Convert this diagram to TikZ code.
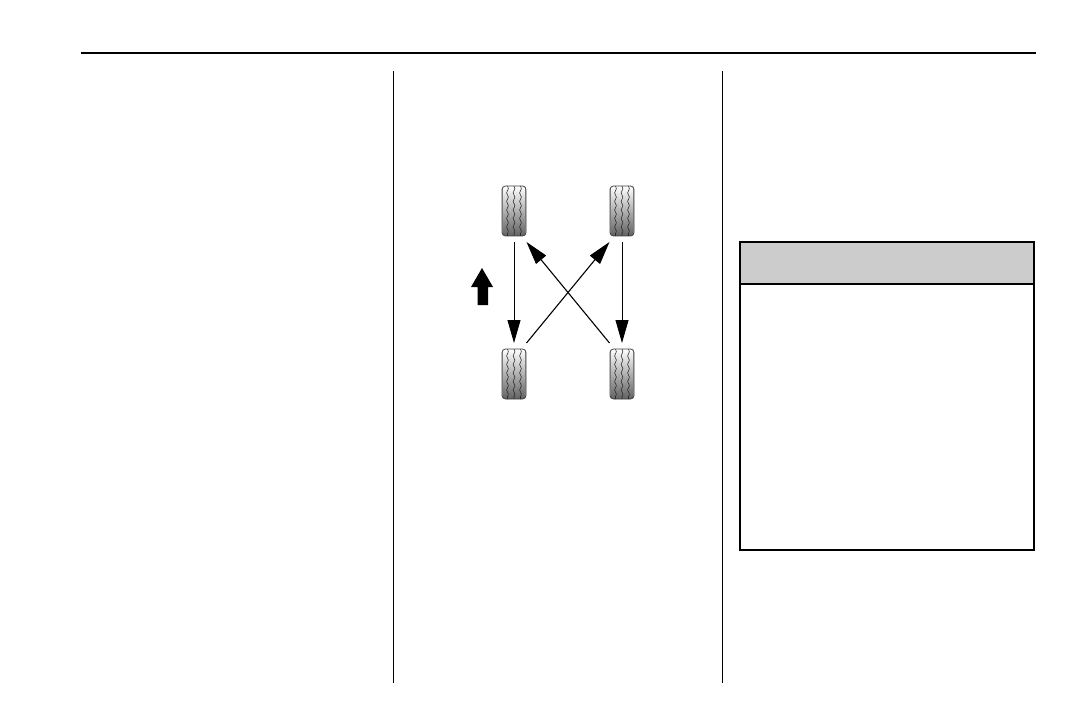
\documentclass[tikz,border=0pt]{standalone}
\usepackage{amsmath}
\usetikzlibrary{arrows.meta}
\usetikzlibrary{decorations.pathmorphing}
\tikzset{
    tire/.style={draw=black!75, line width=0.8pt, rounded corners=3.5pt, minimum width=24pt, minimum height=50pt, inner sep=0pt, outer xsep=0.5pt, outer ysep=6pt, top color=white, middle color=black!6, bottom color=black!62, shading angle=0,
        path picture={
            \foreach \g in {-6.5,0,6.5} {
                \draw[-, sharp corners, line width=0.55pt, black!85, decorate, decoration={snake, amplitude=0.9pt, segment length=8.5pt}] ([xshift=\g pt]path picture bounding box.north) -- ([xshift=\g pt]path picture bounding box.south);
            }
            \draw[-, sharp corners, line width=1.6pt, black!40] (path picture bounding box.north west) -- (path picture bounding box.south west);
            \draw[-, sharp corners, line width=1.6pt, black!40] (path picture bounding box.north east) -- (path picture bounding box.south east);
        }},
    rule/.style={-, line width=1.5pt},
    divider/.style={-, line width=1pt},
    swap/.style={draw, line width=1.1pt},
    straight/.style={draw, line width=0.85pt}
}
\begin{document}
\begin{tikzpicture}[x=1pt,y=-1pt,->,>={Stealth[inset=0pt,length=23pt,width=13pt]},node distance=108pt]
        \useasboundingbox (0,0) rectangle (1071,714);
        \draw[rule] (81,53) -- (1036,53);
        \draw[divider] (393.5,71) -- (393.5,683);
        \draw[divider] (722.5,71) -- (722.5,683);
        \node[tire] (frontleft) at (514,211) {};
        \node[tire] (frontright) [right of=frontleft] {};
        \node[tire] (rearleft) [below of=frontleft, node distance=163pt] {};
        \node[tire] (rearright) [right of=rearleft] {};
        \path (frontleft) edge[straight] (rearleft);
        \path (frontright) edge[straight] (rearright);
        \path (rearleft.north east) edge[swap] (frontright.south west);
        \path (rearright.north west) edge[swap] (frontleft.south east);
        \fill (482,268) -- (493,287) -- (488,287) -- (488,305) -- (477.5,305) -- (477.5,287) -- (471,287) -- cycle;
        \fill[black!20] (740,242.5) rectangle (1033.5,284);
        \draw[-, line width=2pt] (740,242.5) rectangle (1033.5,550);
        \draw[-, line width=2pt] (740,284) -- (1033.5,284);
    \end{tikzpicture}
\end{document}
